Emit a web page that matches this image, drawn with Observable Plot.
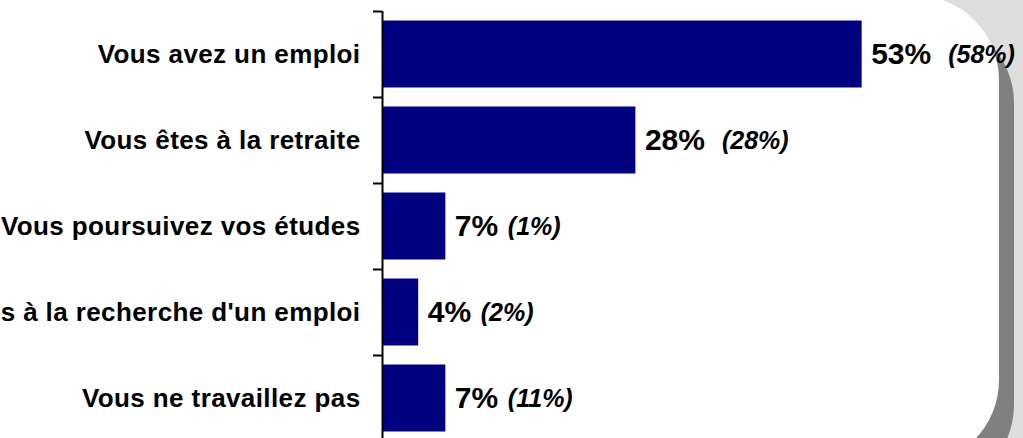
<!DOCTYPE html>
<html>
<head>
<meta charset="utf-8">
<script src="https://cdn.jsdelivr.net/npm/d3@7"></script>
<script src="https://cdn.jsdelivr.net/npm/@observablehq/plot@0.6"></script>
<style>
  html, body { margin: 0; padding: 0; background: #dedede; }
  #wrap { position: relative; width: 1023px; height: 438px; overflow: hidden; background: #dedede; }
  #shadow { position: absolute; left: -200px; top: 18px; width: 1214px; height: 472px; border-radius: 85px; background: #808080; }
  #panel { position: absolute; left: -200px; top: -5px; width: 1199px; height: 470px; border-radius: 85px; background: #ffffff; }
  #chart { position: absolute; left: 0; top: 0; }
  #chart svg { overflow: visible; background: transparent; }
  .cat text { letter-spacing: 0.4px; }
</style>
</head>
<body>
<div id="wrap">
  <div id="shadow"></div>
  <div id="panel"></div>
  <div id="chart"></div>
</div>
<script>
const categories = [
  "Vous avez un emploi",
  "Vous êtes à la retraite",
  "Vous poursuivez vos études",
  "Vous êtes à la recherche d'un emploi",
  "Vous ne travaillez pas"
];
const values = [53, 28, 7, 4, 7];
const previous = [58, 28, 1, 2, 11];

const rows = categories.map((c, i) => ({i, category: c, value: values[i], prev: previous[i]}));

const font = "'Liberation Sans', Arial, Helvetica, sans-serif";

const chart = Plot.plot({
  width: 1023,
  height: 438,
  marginLeft: 382,
  marginRight: 98,
  marginTop: 11,
  marginBottom: 0,
  style: {background: "transparent", fontFamily: font, overflow: "visible"},
  x: {domain: [0, 60], axis: null},
  y: {domain: [0, categories.length], range: [11, 441], axis: null},
  marks: [
    Plot.rect(rows, {
      x1: 0, x2: "value",
      y1: "i", y2: d => d.i + 1,
      insetTop: 9.5, insetBottom: 9.5,
      fill: "#000080"
    }),
    Plot.ruleX([0], {y1: 0, y2: categories.length, stroke: "black", strokeWidth: 2}),
    Plot.axisY({ticks: d3.range(categories.length), tickSize: 9, fill: "none", stroke: "black", strokeWidth: 2, strokeOpacity: 1}),
    Plot.text(rows, {
      x: 0, y: d => d.i + 0.5, text: "category",
      textAnchor: "end", dx: -22,
      fontSize: 26, fontWeight: "bold", fill: "black",
      className: "cat"
    }),
    Plot.text(rows, {
      x: "value", y: d => d.i + 0.5, text: d => d.value + "%",
      textAnchor: "start", dx: 9,
      fontSize: 30, fontWeight: "bold", fill: "black"
    }),
    Plot.text(rows.filter(d => d.value >= 10), {
      x: "value", y: d => d.i + 0.5, text: d => "(" + d.prev + "%)",
      textAnchor: "start", dx: 86,
      fontSize: 25, fontWeight: "bold", fontStyle: "italic", fill: "black"
    }),
    Plot.text(rows.filter(d => d.value < 10), {
      x: "value", y: d => d.i + 0.5, text: d => "(" + d.prev + "%)",
      textAnchor: "start", dx: 62,
      fontSize: 25, fontWeight: "bold", fontStyle: "italic", fill: "black"
    })
  ]
});
document.getElementById("chart").appendChild(chart);
</script>
</body>
</html>
